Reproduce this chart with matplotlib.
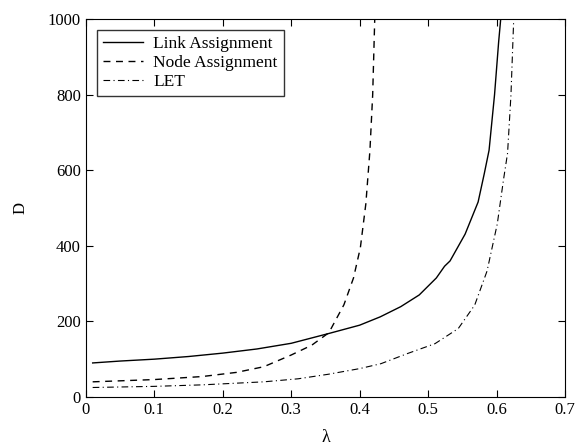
import matplotlib.pyplot as plt
import numpy as np

plt.rcParams['font.family'] = ['Liberation Serif', 'DejaVu Serif']

# Link Assignment
link_lam = [0.01, 0.05, 0.10, 0.15, 0.20, 0.25, 0.30, 0.355, 0.40, 0.43, 0.46, 0.487,
            0.512, 0.524, 0.532, 0.554, 0.573, 0.582, 0.589, 0.597, 0.603, 0.606]
link_d = [90, 95, 100, 107, 116, 127, 142, 168, 190, 212, 239, 270,
          315, 346, 360, 431, 516, 591, 653, 800, 940, 1000]

# Node Assignment
node_lam = [0.01, 0.10, 0.17, 0.22, 0.26, 0.30, 0.33, 0.355, 0.377, 0.391, 0.401,
            0.409, 0.415, 0.419, 0.422]
node_d = [40, 46, 54, 65, 80, 111, 137, 170, 244, 315, 395, 511, 653, 800, 1000]

# LET
let_lam = [0.01, 0.10, 0.17, 0.26, 0.31, 0.354, 0.40, 0.431, 0.47, 0.51, 0.544,
           0.568, 0.586, 0.601, 0.61, 0.616, 0.621, 0.625]
let_d = [25, 28, 32, 40, 48, 60, 75, 88, 115, 141, 181, 243, 333, 458, 574, 645,
         800, 1000]

fig = plt.figure(figsize=(5.76, 4.46), dpi=100)
ax = fig.add_axes([0.149, 0.110, 0.832, 0.847])

ax.plot(link_lam, link_d, color='black', linestyle='-', linewidth=1.0, label='Link Assignment')
ax.plot(node_lam, node_d, color='black', linestyle=(0, (5, 4)), linewidth=1.0, label='Node Assignment')
ax.plot(let_lam, let_d, color='black', linestyle=(0, (6, 3, 1, 3)), linewidth=0.8, label='LET')

ax.set_xlim(0, 0.7)
ax.set_ylim(0, 1000)
ax.set_xticks(np.arange(0, 0.71, 0.1))
ax.set_xticklabels(['0', '0.1', '0.2', '0.3', '0.4', '0.5', '0.6', '0.7'])
ax.set_yticks(np.arange(0, 1001, 200))
ax.tick_params(direction='in', top=True, right=True, labelsize=12, length=5, width=0.8)
ax.set_xlabel('λ', fontsize=13, labelpad=8)
ax.set_ylabel('D', fontsize=12, labelpad=14)

leg = ax.legend(loc='upper left', bbox_to_anchor=(0.012, 0.985), fontsize=12.5,
                frameon=True, fancybox=False, handlelength=2.3, borderpad=0.35,
                labelspacing=0.15, handletextpad=0.6, borderaxespad=0.3)
leg.get_frame().set_edgecolor('black')
leg.get_frame().set_linewidth(1.0)

fig.savefig('out.png', dpi=100)
